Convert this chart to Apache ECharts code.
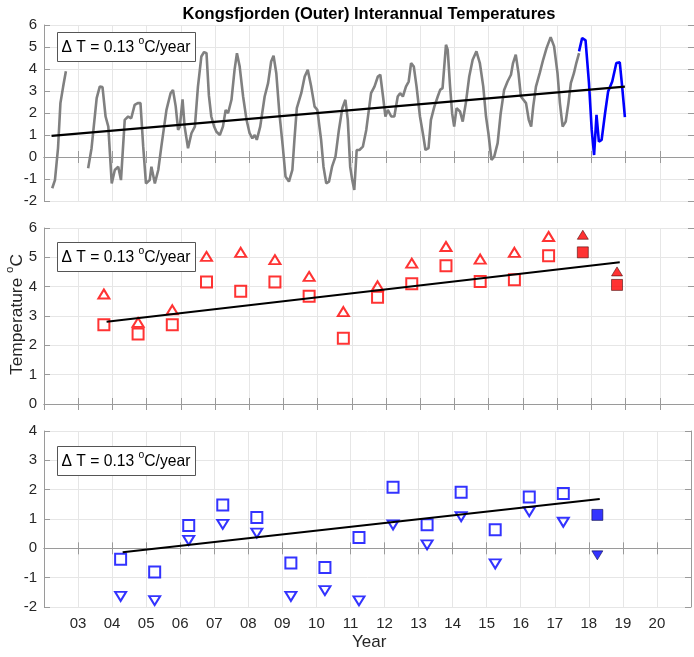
<!DOCTYPE html>
<html>
<head>
<meta charset="utf-8">
<script src="https://cdn.jsdelivr.net/npm/echarts@6/dist/echarts.min.js"></script>
<style>html,body{margin:0;padding:0;background:#fff}#c{width:694px;height:657px}</style>
</head>
<body>
<div id="c"></div>
<script>
// ---------- DATA ----------
const yearTicks = [3,4,5,6,7,8,9,10,11,12,13,14,15,16,17,18,19,20];
// Top panel: interannual series (grey) and recent (blue)
const outerTime = [2.24,2.32,2.41,2.48,2.56,2.64,null,
 3.29,3.39,3.54,3.63,3.71,3.80,3.88,3.98,4.07,4.17,4.25,4.36,4.46,4.55,4.65,4.74,4.82,4.90,4.98,
 5.09,5.14,5.24,5.34,5.43,5.58,5.70,5.77,5.85,5.92,5.97,6.05,6.11,6.21,6.31,6.41,6.50,6.60,6.68,6.75,
 6.82,6.89,6.97,7.04,7.14,7.23,7.31,7.38,7.48,7.57,7.64,7.72,7.82,7.92,8.01,8.09,8.16,8.22,8.32,8.45,
 8.55,8.64,8.71,8.79,8.88,8.98,9.06,9.16,9.26,9.32,9.39,9.52,9.62,9.71,9.81,9.91,9.99,10.10,10.17,10.25,
 10.33,10.42,10.52,10.62,10.72,10.81,10.88,10.95,11.01,11.07,11.14,11.22,11.32,11.42,11.56,11.66,11.76,
 11.83,11.91,11.98,12.05,12.15,12.24,12.34,12.41,12.49,12.58,12.66,12.73,12.81,12.89,12.99,13.09,13.15,
 13.24,13.31,13.41,13.51,13.58,13.65,13.75,13.80,13.87,13.93,13.99,14.06,14.16,14.24,14.33,14.43,14.53,
 14.64,14.74,14.84,14.92,14.99,15.08,15.16,15.26,15.35,15.45,15.55,15.65,15.71,15.79,15.87,15.94,16.09,
 16.17,16.24,16.30,16.38,16.49,16.59,16.69,16.81,16.91,17.01,17.08,17.16,17.25,17.33,17.40,17.49,17.56,17.64];
const outerTemp = [-1.42,-1.05,0.40,2.45,3.20,3.90,null,
 -0.51,0.40,2.68,3.20,3.18,1.84,1.38,-1.20,-0.59,-0.44,-1.05,1.69,1.84,1.76,2.37,2.45,2.45,0.47,-1.20,
 -1.05,-0.44,-1.20,-0.59,0.47,2.14,2.90,3.05,2.30,1.23,1.38,2.62,1.38,0.40,1.08,1.38,3.20,4.57,4.77,4.72,
 2.80,1.84,1.40,1.15,1.00,1.38,2.14,1.99,2.60,3.96,4.72,4.11,2.75,1.69,1.08,0.85,1.00,0.78,1.38,2.75,
 3.36,4.34,4.60,3.81,1.99,0.47,-0.89,-1.12,-0.59,0.78,2.22,2.90,3.66,3.96,3.20,2.29,2.14,0.78,-0.44,-1.20,
 -1.12,-0.44,0.02,1.23,2.22,2.60,1.69,-0.44,-1.05,-1.50,0.32,0.32,0.47,1.23,2.90,3.20,3.66,
 3.74,2.75,1.84,2.14,1.84,1.84,2.75,2.90,2.75,3.20,3.43,4.27,4.11,3.20,1.84,0.93,0.32,
 0.40,1.69,2.29,2.75,3.05,3.13,5.10,4.88,3.20,1.99,1.38,2.22,2.07,1.61,2.45,3.66,4.42,
 4.80,4.27,3.20,1.84,1.08,-0.13,0.02,0.63,1.99,3.05,3.43,3.74,4.27,4.65,3.81,2.75,2.45,
 1.69,1.38,2.29,3.20,3.81,4.42,4.95,5.45,5.03,3.81,2.45,1.38,1.61,2.45,3.36,3.81,4.27,4.72];
const recentTime = [17.64,17.73,17.83,17.93,18.01,18.08,18.15,18.22,18.30,18.40,18.49,18.61,18.73,18.83,18.90,18.98];
const recentTemp = [4.80,5.41,5.30,3.36,1.23,0.09,1.92,0.70,0.78,1.99,2.98,3.43,4.27,4.30,3.20,1.81];
const trendTopX = [2.22,18.98];
const trendTopY = [0.96,3.20];

// Middle panel (red): triangles = maxima, squares = means
const midTime = [3.75,4.75,5.75,6.75,7.75,8.75,9.75,10.75,11.75,12.75,13.75,14.75,15.75,16.75];
const midTri  = [3.75,2.78,3.21,5.03,5.17,4.92,4.35,3.15,4.03,4.80,5.37,4.94,5.17,5.71];
const midSq   = [2.70,2.39,2.70,4.16,3.84,4.16,3.67,2.24,3.64,4.10,4.71,4.18,4.24,5.05];
const midRecentTime = [17.75,18.75];
const midRecentTri  = [5.77,4.52];
const midRecentSq   = [5.17,4.06];
const trendMidX = [3.83,18.83];
const trendMidY = [2.80,4.83];

// Bottom panel (blue): squares = means, down-triangles = minima
const botTime = [4.25,5.25,6.25,7.25,8.25,9.25,10.25,11.25,12.25,13.25,14.25,15.25,16.25,17.25];
const botSq   = [-0.37,-0.81,0.78,1.48,1.05,-0.50,-0.65,0.37,2.08,0.80,1.91,0.63,1.75,1.87];
const botTri  = [-1.64,-1.78,0.27,0.82,0.52,-1.64,-1.44,-1.79,0.80,0.12,1.08,-0.53,1.25,0.89];
const botRecentTime = [18.25];
const botRecentSq   = [1.14];
const botRecentTri  = [-0.24];
const trendBotX = [4.31,18.32];
const trendBotY = [-0.13,1.68];

const yRanges = [[-2,6],[0,6],[-2,4]];
const slopeText = '0.13';

// ---------- BUILD ----------
const zip = (xs, ys) => xs.map((x, i) => x === null ? ['-', '-'] : [x, ys[i]]);
const FONT = '"Liberation Sans", Arial, Helvetica, sans-serif';
const AX = '#9a9a9a';
const GRID = '#e6e6e6';
const LBL = '#262626';

const gridTops = [25, 228, 431];
const grids = gridTops.map(t => ({left: 44, right: -1, top: t, height: 176, containLabel: false}));

const xAxes = [], yAxes = [];
for (let g = 0; g < 3; g++) {
  xAxes.push({
    type: 'value', gridIndex: g, min: 2, max: 21, interval: 1, position: 'bottom',
    axisLine: {show: true, lineStyle: {color: AX, width: 1}},
    axisTick: {show: true, inside: true, length: 6, lineStyle: {color: AX}},
    splitLine: {show: true, lineStyle: {color: GRID, width: 1}},
    axisLabel: {
      show: g === 2, margin: 9, color: LBL, fontFamily: FONT, fontSize: 15,
      formatter: v => yearTicks.indexOf(v) >= 0 ? String(v).padStart(2, '0') : ''
    }
  });
  yAxes.push({
    type: 'value', gridIndex: g, min: yRanges[g][0], max: yRanges[g][1], interval: 1, position: 'left',
    axisLine: {show: true, lineStyle: {color: AX, width: 1}},
    axisTick: {show: true, inside: true, length: 6, lineStyle: {color: AX}},
    splitLine: {show: true, lineStyle: {color: GRID, width: 1}},
    axisLabel: {show: true, margin: 7, color: LBL, fontFamily: FONT, fontSize: 15}
  });
}
for (let g = 0; g < 3; g++) {
  xAxes.push({
    type: 'value', gridIndex: g, min: 2, max: 21, interval: 1, position: 'top',
    axisLine: {show: true, lineStyle: {color: AX, width: 1}},
    axisTick: {show: true, inside: true, length: 6, lineStyle: {color: AX}},
    splitLine: {show: false}, axisLabel: {show: false}
  });
  yAxes.push({
    type: 'value', gridIndex: g, min: yRanges[g][0], max: yRanges[g][1], interval: 1, position: 'right',
    axisLine: {show: true, lineStyle: {color: AX, width: 1}},
    axisTick: {show: true, inside: true, length: 6, lineStyle: {color: AX}},
    splitLine: {show: false}, axisLabel: {show: false}
  });
}

const openSym = (color) => ({color: 'rgba(0,0,0,0)', borderColor: color, borderWidth: 2});
const fillSym = (color, edge) => ({color: color, borderColor: edge, borderWidth: 0.7});

const series = [
  {type: 'line', xAxisIndex: 0, yAxisIndex: 0, data: zip(outerTime, outerTemp), showSymbol: false, symbol: 'none',
   connectNulls: false, lineStyle: {color: '#808080', width: 2.6}, z: 2},
  {type: 'line', xAxisIndex: 0, yAxisIndex: 0, data: zip(recentTime, recentTemp), showSymbol: false, symbol: 'none',
   lineStyle: {color: '#0000ff', width: 2.6}, z: 3},
  {type: 'line', xAxisIndex: 0, yAxisIndex: 0, data: zip(trendTopX, trendTopY), showSymbol: false, symbol: 'none',
   lineStyle: {color: '#000', width: 2.2}, z: 4},

  {type: 'scatter', xAxisIndex: 1, yAxisIndex: 1, data: zip(midTime, midTri), symbol: 'triangle', symbolSize: [11, 9],
   itemStyle: openSym('#ff0000')},
  {type: 'scatter', xAxisIndex: 1, yAxisIndex: 1, data: zip(midTime, midSq), symbol: 'rect', symbolSize: 11,
   itemStyle: openSym('#ff0000')},
  {type: 'scatter', xAxisIndex: 1, yAxisIndex: 1, data: zip(midRecentTime, midRecentTri), symbol: 'triangle', symbolSize: [11, 9],
   itemStyle: fillSym('#ff0000', '#400000')},
  {type: 'scatter', xAxisIndex: 1, yAxisIndex: 1, data: zip(midRecentTime, midRecentSq), symbol: 'rect', symbolSize: 11,
   itemStyle: fillSym('#ff0000', '#400000')},
  {type: 'line', xAxisIndex: 1, yAxisIndex: 1, data: zip(trendMidX, trendMidY), showSymbol: false, symbol: 'none',
   lineStyle: {color: '#000', width: 2}, z: 4},

  {type: 'scatter', xAxisIndex: 2, yAxisIndex: 2, data: zip(botTime, botSq), symbol: 'rect', symbolSize: 11,
   itemStyle: openSym('#0000ff')},
  {type: 'scatter', xAxisIndex: 2, yAxisIndex: 2, data: zip(botTime, botTri), symbol: 'triangle', symbolRotate: 180, symbolSize: [11, 9],
   itemStyle: openSym('#0000ff')},
  {type: 'scatter', xAxisIndex: 2, yAxisIndex: 2, data: zip(botRecentTime, botRecentSq), symbol: 'rect', symbolSize: 11,
   itemStyle: fillSym('#0000ff', '#00003a')},
  {type: 'scatter', xAxisIndex: 2, yAxisIndex: 2, data: zip(botRecentTime, botRecentTri), symbol: 'triangle', symbolRotate: 180, symbolSize: [11, 9],
   itemStyle: fillSym('#0000ff', '#00003a')},
  {type: 'line', xAxisIndex: 2, yAxisIndex: 2, data: zip(trendBotX, trendBotY), showSymbol: false, symbol: 'none',
   lineStyle: {color: '#000', width: 2}, z: 4}
];

// ---- text with superscript 'o' built from measured pieces ----
const mctx = document.createElement('canvas').getContext('2d');
function tw(s, fs) { mctx.font = fs + 'px ' + FONT; return mctx.measureText(s).width; }
function supChildren(pre, sup, post, fs, sfs, color, raise) {
  const w1 = tw(pre, fs), w2 = tw(sup, sfs);
  const st = (t, f) => ({text: t, fontFamily: FONT, fontSize: f, fill: color, align: 'left', verticalAlign: 'middle'});
  return [
    {type: 'text', x: 0, y: 0, z: 20, style: st(pre, fs)},
    {type: 'text', x: w1, y: -raise, z: 20, style: st(sup, sfs)},
    {type: 'text', x: w1 + w2, y: 0, z: 20, style: st(post, fs)}
  ];
}
function fitSize(pre, sup, post, target) {
  const base = tw(pre, 10) + tw(sup, 10 * 0.66) + tw(post, 10);
  return 10 * target / base;
}

const boxPre = '\u0394 T = ' + slopeText + ' ', boxSup = 'o', boxPost = 'C/year';
const boxFs = fitSize(boxPre, boxSup, boxPost, 129);
const boxTops = [32, 242, 446];
const graphic = [];
boxTops.forEach(t => {
  graphic.push({type: 'rect', left: 57, top: t, shape: {width: 138, height: 29}, style: {fill: '#fff', stroke: '#555', lineWidth: 1}, z: 10});
  graphic.push({type: 'group', x: 61.5, y: t + 15.5, z: 20,
    children: supChildren(boxPre, boxSup, boxPost, boxFs, boxFs * 0.66, '#000', 6.5)});
});
graphic.push({type: 'text', x: 369, y: 6, z: 11, style: {
  text: 'Kongsfjorden (Outer) Interannual Temperatures', fontFamily: FONT, fontSize: 16.5, fontWeight: 'bold', fill: '#000',
  align: 'center', verticalAlign: 'top'}});
graphic.push({type: 'text', left: 352, top: 634, z: 11, style: {
  text: 'Year', fontFamily: FONT, fontSize: 17, fill: LBL}});
const ylFs = fitSize('Temperature ', 'o', 'C', 121);
graphic.push({type: 'group', x: 17, y: 375, rotation: Math.PI / 2, z: 20,
  children: supChildren('Temperature ', 'o', 'C', ylFs, ylFs * 0.66, LBL, 7)});

const chart = echarts.init(document.getElementById('c'), null, {renderer: 'canvas'});
chart.setOption({
  animation: false,
  backgroundColor: '#fff',
  grid: grids,
  xAxis: xAxes,
  yAxis: yAxes,
  series: series,
  graphic: graphic
});
</script>
</body>
</html>
